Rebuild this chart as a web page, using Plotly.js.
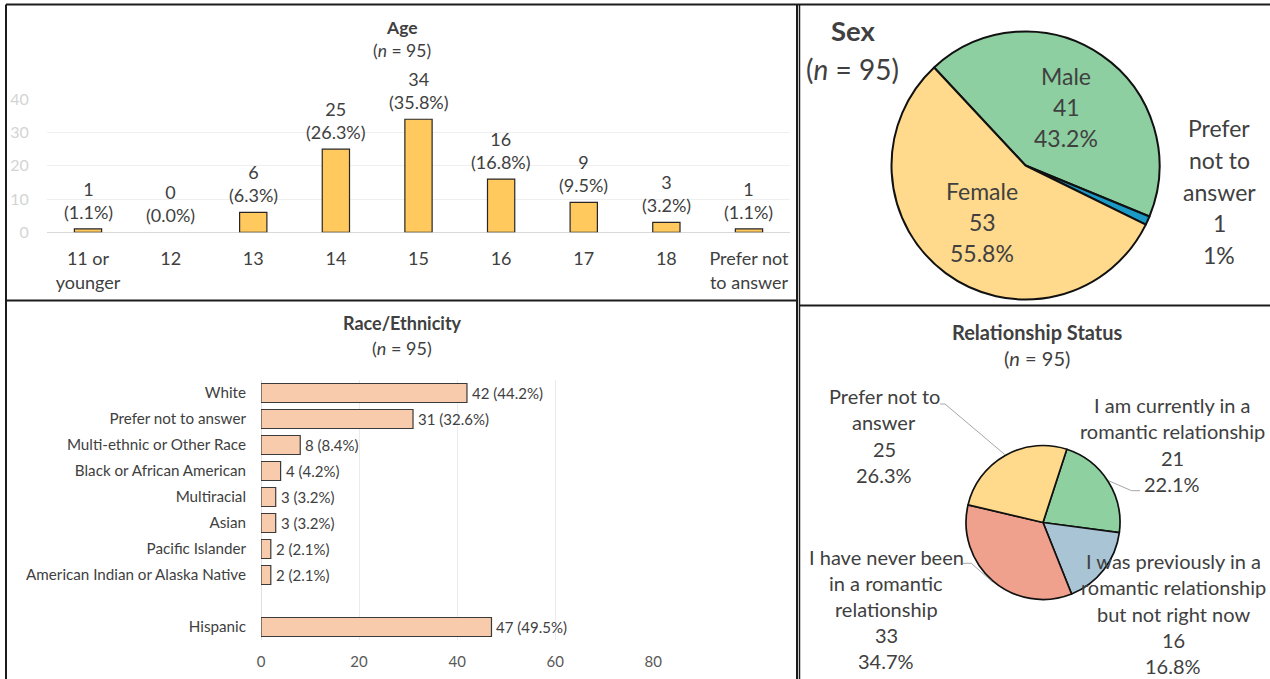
<!DOCTYPE html>
<html>
<head>
<meta charset="utf-8">
<script src="https://cdn.plot.ly/plotly-3.0.1.min.js"></script>
<style>html,body{margin:0;padding:0;background:#fff;}#chart{width:1270px;height:679px;}</style>
</head>
<body>
<div id="chart"></div>
<script>
// ---------- DATA ----------
var N = 95;
var ageCategories = ['11 or<br>younger', '12', '13', '14', '15', '16', '17', '18', 'Prefer not<br>to answer'];
var ageValues = [1, 0, 6, 25, 34, 16, 9, 3, 1];

var raceCategories = ['White', 'Prefer not to answer', 'Multi-ethnic or Other Race', 'Black or African American',
  'Multiracial', 'Asian', 'Pacific Islander', 'American Indian or Alaska Native', ' ', 'Hispanic'];
var raceValues = [42, 31, 8, 4, 3, 3, 2, 2, null, 47];

var sexLabels = ['Male', 'Prefer<br>not to<br>answer', 'Female'];
var sexValues = [41, 1, 53];
var sexDecimals = [1, 0, 1];
var sexColors = ['#8DCFA0', '#1B9AC6', '#FFD98C'];

var relLabels = ['I am currently in a<br>romantic relationship', 'I was previously in a<br>romantic relationship<br>but not right now',
  'I have never been<br>in a romantic<br>relationship', 'Prefer not to<br>answer'];
var relValues = [21, 16, 33, 25];
var relColors = ['#8ED0A0', '#A9C4D4', '#F0A18E', '#FFD98C'];

// ---------- HELPERS ----------
var W = 1270, H = 679;
function X(px) { return px / W; }
function Y(py) { return 1 - py / H; }
var FONT = 'Lato, "Open Sans", sans-serif';
var TXT = '#404040';
function pct(v, d) { return (v / N * 100).toFixed(d); }

var annotations = [];
function addLines(xpx, ypx0, lines, size, gap, opts) {
  opts = opts || {};
  lines.forEach(function (t, i) {
    annotations.push({
      xref: 'paper', yref: 'paper', x: X(xpx), y: Y(ypx0 + i * gap),
      text: t, showarrow: false, xanchor: 'center', yanchor: 'middle',
      font: {family: FONT, size: size, color: opts.color || TXT}
    });
  });
}

// ---------- TRACES ----------
var ageTrace = {
  type: 'bar', x: ageCategories, y: ageValues, xaxis: 'x', yaxis: 'y',
  width: 0.33,
  marker: {color: '#FFC95E', line: {color: '#262626', width: ageValues.map(function (v) { return v > 0 ? 1.2 : 0; })}},
  hoverinfo: 'none', showlegend: false
};
// age data labels (anchored to the bar tops through the axes; x = category index)
ageCategories.forEach(function (c, i) {
  annotations.push({
    xref: 'x', yref: 'y', x: i, y: ageValues[i], yanchor: 'bottom', xanchor: 'center', yshift: 4,
    text: ageValues[i] + '<br>(' + pct(ageValues[i], 1) + '%)', showarrow: false,
    font: {family: FONT, size: 18, color: TXT}
  });
});

var raceTrace = {
  type: 'bar', orientation: 'h', y: raceCategories, x: raceValues, xaxis: 'x2', yaxis: 'y2',
  width: 0.73,
  marker: {color: '#F8CBAD', line: {color: '#3a3a3a', width: 1.2}},
  hoverinfo: 'none', showlegend: false
};
raceCategories.forEach(function (c, i) {
  if (raceValues[i] === null) return;
  annotations.push({
    xref: 'x2', yref: 'y2', x: raceValues[i], y: i, xanchor: 'left', yanchor: 'middle', xshift: 3,
    text: raceValues[i] + ' (' + pct(raceValues[i], 1) + '%)', showarrow: false,
    font: {family: FONT, size: 15, color: TXT}
  });
});

var sexC = {x: 1025.5, y: 165.5, r: 134};
var sexRotation = -43;
var sexTrace = {
  type: 'pie', labels: sexLabels, values: sexValues, sort: false, direction: 'clockwise',
  rotation: sexRotation, textinfo: 'none', hoverinfo: 'none', showlegend: false,
  marker: {colors: sexColors, line: {color: '#111111', width: 2}},
  domain: {x: [X(sexC.x - sexC.r), X(sexC.x + sexC.r)], y: [Y(sexC.y + sexC.r), Y(sexC.y - sexC.r)]}
};

var relC = {x: 1043, y: 522.5, r: 77};
var relRotation = 18;
var relTrace = {
  type: 'pie', labels: relLabels, values: relValues, sort: false, direction: 'clockwise',
  rotation: relRotation, textinfo: 'none', hoverinfo: 'none', showlegend: false,
  marker: {colors: relColors, line: {color: '#111111', width: 1.7}},
  domain: {x: [X(relC.x - relC.r), X(relC.x + relC.r)], y: [Y(relC.y + relC.r), Y(relC.y - relC.r)]}
};

// ---------- TITLES ----------
addLines(402, 28, ['<b>Age</b>', '(<i>n</i> = 95)'], 17.5, 23);
addLines(402, 323, ['<b>Race/Ethnicity</b>', '(<i>n</i> = 95)'], 18, 24.5);
addLines(1037, 331.5, ['<b>Relationship Status</b>', '(<i>n</i> = 95)'], 20, 26);
addLines(853, 31, ['<b>Sex</b>'], 27.5, 0);
addLines(852.5, 69, ['(<i>n</i> = 95)'], 28, 0);

// ---------- PIE LABELS ----------
function pieLines(labels, values, decimals, i) {
  var d = decimals ? decimals[i] : 1;
  return labels[i].split('<br>').concat([String(values[i]), pct(values[i], d) + '%']);
}
var sexLabelPos = [{x: 1066, y: 76, g: 31}, {x: 1219, y: 128, g: 31.8}, {x: 982, y: 191, g: 31}];
sexLabelPos.forEach(function (p, i) { addLines(p.x, p.y, pieLines(sexLabels, sexValues, sexDecimals, i), 23, p.g); });

var relLabelPos = [{x: 1172, y: 405, g: 26.3}, {x: 1173, y: 561, g: 26.3}, {x: 886, y: 556.7, g: 26.1}, {x: 884, y: 396, g: 26.3}];
relLabelPos.forEach(function (p, i) { addLines(p.x, p.y, pieLines(relLabels, relValues, null, i), 20, p.g); });

// ---------- SHAPES: borders + leader lines ----------
var shapes = [];
function seg(x0, y0, x1, y1, color, width) {
  shapes.push({type: 'line', xref: 'paper', yref: 'paper', x0: X(x0), y0: Y(y0), x1: X(x1), y1: Y(y1),
    line: {color: color, width: width}});
}
var B = '#1c1c1c';
seg(6, 4.5, 1270, 4.5, B, 2);
seg(6, 4.5, 6, 679, B, 2);
seg(797, 4.5, 797, 679, B, 2);
seg(799.5, 4.5, 799.5, 679, B, 1.5);
seg(6, 300.5, 797, 300.5, B, 2);
seg(799.5, 305.5, 1270, 305.5, B, 2);

// leader lines: pie-side end from each slice's mid-angle
var relTotal = relValues.reduce(function (a, b) { return a + b; }, 0);
var relMid = [];
(function () {
  var a = relRotation;
  relValues.forEach(function (v) { var s = v / relTotal * 360; relMid.push(a + s / 2); a += s; });
})();
function edge(i, extra) {
  var t = relMid[i] * Math.PI / 180, r = relC.r + (extra || 0);
  return {x: relC.x + r * Math.sin(t), y: relC.y - r * Math.cos(t)};
}
var LG = '#A6A6A6';
var leaders = [
  {i: 0, pts: [[1140, 490.7], [1131.5, 490.7]]},
  {i: 2, pts: [[963, 563.3], [971.3, 563.3]]},
  {i: 3, pts: [[940, 404], [945, 404]]}
];
leaders.forEach(function (L) {
  var e = edge(L.i, 1);
  seg(L.pts[0][0], L.pts[0][1], L.pts[1][0], L.pts[1][1], LG, 1);
  seg(L.pts[1][0], L.pts[1][1], e.x, e.y, LG, 1);
});

// ---------- LAYOUT ----------
var layout = {
  width: W, height: H, margin: {l: 0, r: 0, t: 0, b: 0},
  paper_bgcolor: '#ffffff', plot_bgcolor: 'rgba(0,0,0,0)',
  font: {family: FONT, color: TXT},
  xaxis: {
    domain: [X(46.7), X(790.3)], anchor: 'y', type: 'category', range: [-0.5, 8.5],
    showgrid: false, showline: false, zeroline: false, ticks: '',
    tickfont: {family: FONT, size: 18, color: TXT}, ticklabelstandoff: 14, fixedrange: true
  },
  yaxis: {
    domain: [Y(232.3), Y(99.3)], anchor: 'x', range: [0, 40], dtick: 10,
    showgrid: true, gridcolor: '#EFEFEF', gridwidth: 1, zeroline: true, zerolinecolor: '#D9D9D9', zerolinewidth: 1.5,
    showline: false, ticks: '', tickfont: {family: FONT, size: 16, color: '#D4D4D4'}, ticklabelstandoff: 17, fixedrange: true
  },
  xaxis2: {
    domain: [X(261), X(653.3)], anchor: 'y2', range: [0, 80], dtick: 20,
    showgrid: true, gridcolor: '#EBEBEB', gridwidth: 1, zeroline: true, zerolinecolor: '#E0E0E0',
    showline: false, ticks: '', tickfont: {family: FONT, size: 15, color: '#595959'}, ticklabelstandoff: 11, fixedrange: true
  },
  yaxis2: {
    domain: [Y(640), Y(380)], anchor: 'x2', type: 'category', categoryorder: 'array', categoryarray: raceCategories,
    range: [9.5, -0.5], showgrid: false, showline: false, zeroline: false, ticks: '',
    tickfont: {family: FONT, size: 15.2, color: TXT}, ticklabelstandoff: 14, fixedrange: true
  },
  annotations: annotations,
  shapes: shapes
};

Plotly.newPlot('chart', [ageTrace, raceTrace, sexTrace, relTrace], layout, {displayModeBar: false, staticPlot: true});
</script>
</body>
</html>
